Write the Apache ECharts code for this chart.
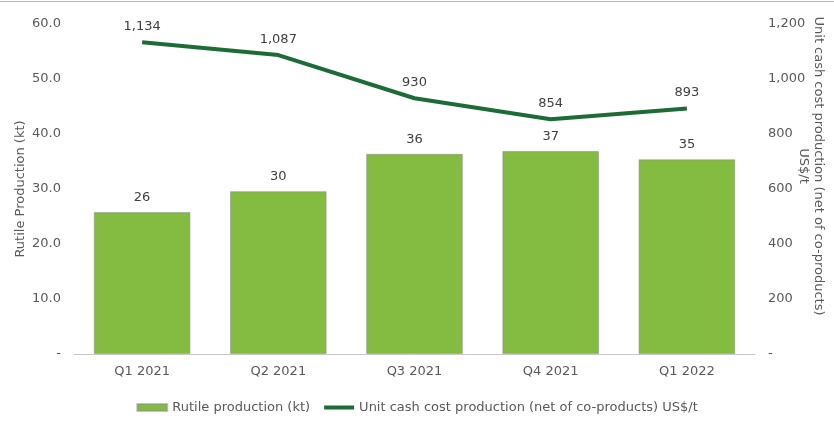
<!DOCTYPE html>
<html><head><meta charset="utf-8">
<script src="https://cdn.jsdelivr.net/npm/echarts@6/dist/echarts.min.js"></script>
<style>html,body{margin:0;padding:0;background:#fff}#c{width:834px;height:421px;position:relative}
#c:before{content:"";position:absolute;left:0;right:0;top:1px;border-top:1px solid #b5b5b5;z-index:5}</style>
</head><body><div id="c"></div>
<script>
const categories = ['Q1 2021','Q2 2021','Q3 2021','Q4 2021','Q1 2022'];
const rutileProduction = [25.8, 29.6, 36.4, 36.9, 35.4];
const unitCashCost = [1134, 1087, 930, 854, 893];
const barName = 'Rutile production (kt)';
const lineName = 'Unit cash cost production (net of co-products) US$/t';
const leftAxisName = 'Rutile Production (kt)';
const rightAxisName = 'Unit cash cost production (net of co-products)\nUS$/t';

const font = 'DejaVu Sans';
const chart = echarts.init(document.getElementById('c'));
chart.setOption({
  animation: false,
  textStyle: {fontFamily: font},
  grid: {left: 74, right: 79, top: 24, bottom: 67},
  legend: {
    bottom: 2, left: 'center', itemGap: 14, itemWidth: 30, itemHeight: 7,
    textStyle: {fontSize: 13, color: '#595959', fontFamily: font},
    data: [{name: barName, icon: 'rect'},
           {name: lineName, icon: 'path://M0 2H30V6H0Z'}]
  },
  xAxis: {
    type: 'category', data: categories,
    axisLine: {lineStyle: {color: '#c8c8c8'}}, axisTick: {show: false},
    axisLabel: {color: '#595959', fontSize: 13, margin: 11}
  },
  yAxis: [{
    type: 'value', min: 0, max: 60, interval: 10,
    splitLine: {show: false}, axisLine: {show: false}, axisTick: {show: false},
    axisLabel: {color: '#595959', fontSize: 13, margin: 13,
      formatter: v => v === 0 ? '-' : v.toFixed(1)},
    name: leftAxisName, nameLocation: 'middle', nameGap: 47, nameMoveOverlap: false,
    nameTextStyle: {color: '#595959', fontSize: 13}
  }, {
    type: 'value', min: 0, max: 1200, interval: 200,
    splitLine: {show: false}, axisLine: {show: false}, axisTick: {show: false},
    axisLabel: {color: '#595959', fontSize: 13, margin: 13,
      formatter: v => v === 0 ? '-' : v.toLocaleString('en-US')}
  }],
  graphic: [{
    type: 'text', x: 811, y: 166, rotation: -Math.PI / 2,
    style: {text: rightAxisName, fill: '#595959', font: '13px "DejaVu Sans"',
      align: 'center', verticalAlign: 'middle', lineHeight: 15}
  }],
  series: [{
    name: barName, type: 'bar', data: rutileProduction, yAxisIndex: 0,
    barWidth: '71%',
    itemStyle: {color: '#84bb41', borderColor: 'rgba(140,140,140,0.5)', borderWidth: 1},
    label: {show: true, position: 'top', distance: 8, color: '#404040', fontSize: 13,
      formatter: p => Math.round(p.value)}
  }, {
    name: lineName, type: 'line', data: unitCashCost, yAxisIndex: 1,
    symbol: 'circle', symbolSize: 0.1, showSymbol: true,
    lineStyle: {color: '#1d6b36', width: 4}, itemStyle: {color: '#1d6b36'},
    label: {show: true, position: 'top', distance: 9, color: '#404040', fontSize: 13,
      formatter: p => p.value.toLocaleString('en-US')}
  }]
});
</script></body></html>
